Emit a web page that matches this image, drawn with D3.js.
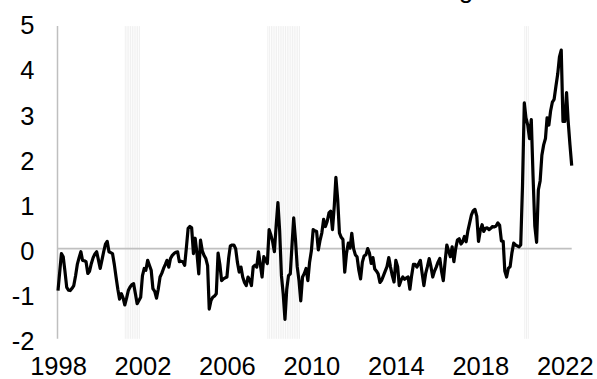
<!DOCTYPE html>
<html>
<head>
<meta charset="utf-8">
<script src="https://cdn.jsdelivr.net/npm/d3@7"></script>
<style>
  body { margin: 0; background: #fff; }
  svg text { font-family: "Liberation Sans", Arial, sans-serif; fill: #000; }
</style>
</head>
<body>
<div id="chart"></div>
<script>
// Monthly series, Jan 1998 onwards
const firstMonth = '1998-01';
const values = [
  // 1998
  -0.93, -0.5, -0.11, -0.18, -0.5, -0.86, -0.92, -0.93, -0.88, -0.82, -0.6, -0.35,
  // 1999
  -0.2, -0.07, -0.26, -0.27, -0.29, -0.55, -0.5, -0.33, -0.2, -0.12, -0.07, -0.25,
  // 2000
  -0.44, -0.25, -0.07, 0.1, 0.16, -0.07, -0.09, -0.11, -0.35, -0.63, -0.9, -1.12,
  // 2001
  -1.0, -1.1, -1.25, -1.1, -0.93, -0.85, -0.8, -0.78, -1.0, -1.22, -1.15, -1.08,
  // 2002
  -0.6, -0.44, -0.48, -0.26, -0.37, -0.48, -0.89, -0.95, -1.1, -0.9, -0.63, -0.55,
  // 2003
  -0.44, -0.35, -0.26, -0.41, -0.22, -0.15, -0.11, -0.08, -0.07, -0.29, -0.28, -0.29,
  // 2004
  -0.37, 0.04, 0.45, 0.49, 0.46, -0.11, 0.23, -0.11, -0.56, 0.19, -0.05, -0.15,
  // 2005
  -0.22, -0.38, -1.34, -1.15, -1.08, -1.05, -1.0, -0.1, -0.35, -0.71, -0.67, -0.65,
  // 2006
  -0.63, -0.2, 0.06, 0.08, 0.08, 0.0, -0.3, -0.52, -0.41, -0.63, -0.75, -0.82,
  // 2007
  -0.63, -0.7, -0.82, -0.4, -0.37, -0.41, -0.07, -0.35, -0.63, -0.18, -0.26, -0.33,
  // 2008
  0.42, 0.3, 0.16, -0.07, 0.5, 1.02, 0.4, -0.6, -1.01, -1.57, -0.9, -0.6,
  // 2009
  -0.56, 0.1, 0.68, 0.2, -0.4, -0.71, -1.16, -0.63, -0.55, -0.44, -0.71, -0.3,
  // 2010
  -0.05, 0.42, 0.4, 0.38, -0.03, 0.19, 0.35, 0.65, 0.49, 0.6, 0.79, 0.83,
  // 2011
  0.42, 0.94, 1.58, 1.09, 0.35, 0.25, 0.2, -0.52, -0.1, 0.12, 0.01, 0.34,
  // 2012
  0.0, -0.14, -0.18, -0.48, -0.67, -0.3, -0.16, -0.14, 0.0, -0.1, -0.33, -0.2,
  // 2013
  -0.45, -0.5, -0.56, -0.75, -0.7, -0.6, -0.5, -0.4, -0.2, -0.41, -0.6, -0.74,
  // 2014
  -0.26, -0.4, -0.82, -0.7, -0.63, -0.68, -0.65, -0.63, -0.9, -0.6, -0.35, -0.35,
  // 2015
  -0.41, -0.33, -0.26, -0.55, -0.82, -0.55, -0.4, -0.22, -0.4, -0.63, -0.5, -0.41,
  // 2016
  -0.3, -0.22, -0.5, -0.71, -0.3, 0.08, -0.05, -0.18, 0.04, -0.29, 0.0, 0.19,
  // 2017
  0.22, 0.1, 0.15, 0.27, 0.15, 0.4, 0.57, 0.75, 0.84, 0.87, 0.72, 0.16,
  // 2018
  0.4, 0.53, 0.38, 0.45, 0.46, 0.42, 0.45, 0.49, 0.48, 0.5, 0.57, 0.52,
  // 2019
  0.17, 0.16, -0.5, -0.63, -0.44, -0.4, -0.1, 0.12, 0.08, 0.06, 0.04, 0.08,
  // 2020
  1.39, 3.23, 2.9, 2.74, 2.44, 2.86, 1.62, 0.5, 0.14, 1.3, 1.5, 2.07,
  // 2021
  2.3, 2.44, 2.9, 2.74, 3.05, 3.25, 3.31, 3.6, 3.87, 4.25, 4.4, 2.82,
  // 2022
  2.82, 3.46, 2.82, 2.3, 1.84
];

// recession periods (first and last month)
const recessions = [['2001-03', '2001-11'], ['2007-12', '2009-06'], ['2020-02', '2020-04']];
const yTicks = [-2, -1, 0, 1, 2, 3, 4, 5];
const xTickYears = [1998, 2002, 2006, 2010, 2014, 2018, 2022];
const titleTail = 'g';

const W = 597, H = 379;
const fontSize = 25.5;
const parse = d3.timeParse('%Y-%m');
const start = parse(firstMonth);
const data = values.map((v, i) => ({ date: d3.timeMonth.offset(start, i), v }));

const svg = d3.select('#chart').append('svg').attr('width', W).attr('height', H);

const x = d3.scaleTime()
  .domain([start, data[data.length - 1].date])
  .range([58, 571.7]);
const y = d3.scaleLinear().domain([-2, 5]).range([338.8, 23.1]);

// recession shading, one thin bar per month
const recMonths = recessions.flatMap(([a, b]) =>
  d3.timeMonth.range(parse(a), d3.timeMonth.offset(parse(b), 1)));
svg.append('g').selectAll('rect')
  .data(recMonths)
  .join('rect')
  .attr('x', d => x(d))
  .attr('width', 1)
  .attr('y', y(5) + 3)
  .attr('height', y(-2) - y(5) - 3)
  .attr('fill', '#f0f0f0');

// zero line
svg.append('line')
  .attr('x1', x(start)).attr('x2', x(data[data.length - 1].date))
  .attr('y1', y(0)).attr('y2', y(0))
  .attr('stroke', '#c0c0c0').attr('stroke-width', 1.8);

// vertical axis line
svg.append('line')
  .attr('x1', 57.5).attr('x2', 57.5)
  .attr('y1', y(5) + 3).attr('y2', y(-2))
  .attr('stroke', '#bfbfbf').attr('stroke-width', 1.5);

// series
const line = d3.line().x(d => x(d.date)).y(d => y(d.v));
svg.append('path')
  .datum(data)
  .attr('d', line)
  .attr('fill', 'none')
  .attr('stroke', '#000')
  .attr('stroke-width', 3.2)
  .attr('stroke-linejoin', 'round');

// axes
const yAxis = svg.append('g')
  .attr('transform', 'translate(57.5,0)')
  .call(d3.axisLeft(y).tickValues(yTicks).tickFormat(d => String(d)).tickSize(0).tickPadding(23));
yAxis.select('.domain').remove();
yAxis.selectAll('text').attr('font-size', fontSize).attr('dy', '0.42em');

const xAxis = svg.append('g')
  .attr('transform', `translate(0,${y(-2)})`)
  .call(d3.axisBottom(x)
    .tickValues(xTickYears.map(yr => new Date(yr, 0, 1)))
    .tickFormat(d3.timeFormat('%Y'))
    .tickSize(0).tickPadding(18));
xAxis.select('.domain').remove();
xAxis.selectAll('text').attr('font-size', fontSize);

// tail of a title that sits above the crop
svg.append('text')
  .attr('x', 459).attr('y', -2.5)
  .attr('font-size', fontSize)
  .text(titleTail);
</script>
</body>
</html>
